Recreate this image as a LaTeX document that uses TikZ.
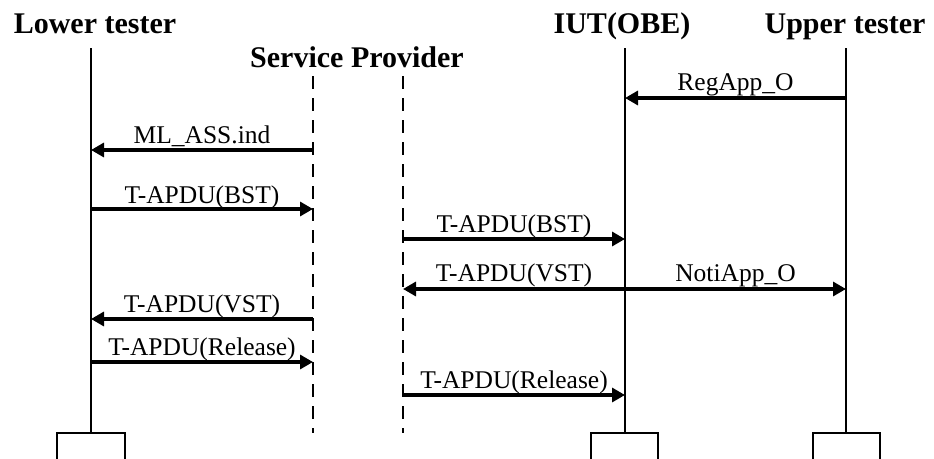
\documentclass[tikz,border=0pt]{standalone}
\usepackage{fontspec}
\setmainfont{Liberation Serif}
\usetikzlibrary{arrows.meta}
\tikzset{
  life/.style={line width=2pt},
  spline/.style={line width=2pt, dash pattern=on 13pt off 9pt},
  msg/.style={line width=3.2pt, -{Triangle[length=13pt,width=14pt]}},
  lbl/.style={anchor=base, inner sep=0pt, font=\fontsize{25.5}{30}\selectfont},
  ttl/.style={anchor=base, inner sep=0pt, font=\fontsize{30}{36}\selectfont\bfseries},
  foot/.style={line width=2pt}
}
\begin{document}
\begin{tikzpicture}[x=1pt,y=-1pt]
\useasboundingbox (0,0) rectangle (934,458);

% participant titles
\node[ttl] (tlt)  at (95,33)  {Lower tester};
\node[ttl] (tsp)  at (357,67) {Service Provider};
\node[ttl] (tiut) at (622,33) {IUT(OBE)};
\node[ttl] (tut)  at (845,33) {Upper tester};

% lifeline ends
\coordinate (lt0)  at (91,48);   \coordinate (lt1)  at (91,433);
\coordinate (spa0) at (313,76);  \coordinate (spa1) at (313,433);
\coordinate (spb0) at (403,76);  \coordinate (spb1) at (403,433);
\coordinate (iut0) at (625,48);  \coordinate (iut1) at (625,433);
\coordinate (ut0)  at (846,48);  \coordinate (ut1)  at (846,433);

\draw[life] (lt0) -- (lt1);
\draw[spline] (spa0) -- (spa1);
\draw[spline] (spb0) -- (spb1);
\draw[life] (iut0) -- (iut1);
\draw[life] (ut0) -- (ut1);

% lifeline foot boxes (cut by the lower edge)
\draw[foot] (57,460) |- (125,433) -- (125,460);
\draw[foot] (591,460) |- (658,433) -- (658,460);
\draw[foot] (813,460) |- (880,433) -- (880,460);

% message end points
\coordinate (m1a) at (846,98);  \coordinate (m1b) at (625,98);
\coordinate (m2a) at (313,150); \coordinate (m2b) at (91,150);
\coordinate (m3a) at (91,209);  \coordinate (m3b) at (313,209);
\coordinate (m4a) at (403,239); \coordinate (m4b) at (625,239);
\coordinate (m5a) at (625,289); \coordinate (m5b) at (403,289);
\coordinate (m6a) at (625,289); \coordinate (m6b) at (846,289);
\coordinate (m7a) at (313,319); \coordinate (m7b) at (91,319);
\coordinate (m8a) at (91,362);  \coordinate (m8b) at (313,362);
\coordinate (m9a) at (403,395); \coordinate (m9b) at (625,395);

\draw[msg] (m1a) -- (m1b);
\draw[msg] (m2a) -- (m2b);
\draw[msg] (m3a) -- (m3b);
\draw[msg] (m4a) -- (m4b);
\draw[msg] (m5a) -- (m5b);
\draw[msg] (m6a) -- (m6b);
\draw[msg] (m7a) -- (m7b);
\draw[msg] (m8a) -- (m8b);
\draw[msg] (m9a) -- (m9b);

% message labels
\node[lbl] (l1) at (735.5,90) {RegApp\_O};
\node[lbl] (l2) at (202,143) {ML\_ASS.ind};
\node[lbl] (l3) at (202,203) {T-APDU(BST)};
\node[lbl] (l4) at (514,232) {T-APDU(BST)};
\node[lbl] (l5) at (514,281) {T-APDU(VST)};
\node[lbl] (l6) at (735.5,281) {NotiApp\_O};
\node[lbl] (l7) at (202,312) {T-APDU(VST)};
\node[lbl] (l8) at (202,355) {T-APDU(Release)};
\node[lbl] (l9) at (514,388) {T-APDU(Release)};
\end{tikzpicture}
\end{document}
